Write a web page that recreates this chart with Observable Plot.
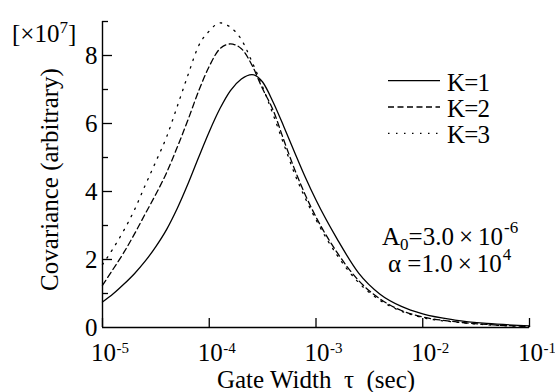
<!DOCTYPE html>
<html><head><meta charset="utf-8">
<script src="https://cdn.jsdelivr.net/npm/d3@7"></script>
<script src="https://cdn.jsdelivr.net/npm/@observablehq/plot@0.6"></script>
<style>
html,body{margin:0;padding:0;background:#fff;}
#chart{width:555px;height:392px;position:relative;}
#chart svg, #chart svg text, #chart svg tspan { font-family: "Liberation Serif", "Times New Roman", serif; }
</style></head><body><div id="chart"></div>
<script>
// Gate width tau (sec)
const tau = [1.00e-5, 1.26e-5, 1.58e-5, 2.00e-5, 2.51e-5, 3.16e-5, 3.98e-5, 5.01e-5, 6.31e-5, 7.94e-5,
             1.00e-4, 1.26e-4, 1.58e-4, 2.00e-4, 2.51e-4, 3.16e-4, 3.98e-4, 5.01e-4, 6.31e-4, 7.94e-4,
             1.00e-3, 1.58e-3, 2.51e-3, 3.98e-3, 6.31e-3, 1.00e-2, 2.00e-2, 3.98e-2, 1.00e-1];
// Covariance (x1e7, arbitrary)
const covK1 = [0.75, 0.99, 1.27, 1.59, 1.95, 2.38, 2.88, 3.50, 4.22, 5.00,
               5.76, 6.44, 6.97, 7.31, 7.44, 7.22, 6.62, 5.90, 5.15, 4.42,
               3.75, 2.60, 1.60, 0.98, 0.62, 0.40, 0.22, 0.12, 0.05];
const covK2 = [1.24, 1.72, 2.20, 2.76, 3.34, 3.92, 4.55, 5.30, 6.10, 6.95,
               7.68, 8.20, 8.34, 8.20, 7.72, 7.02, 6.38, 5.50, 4.65, 3.90,
               3.25, 2.20, 1.38, 0.84, 0.50, 0.31, 0.17, 0.09, 0.03];
const covK3 = [1.85, 2.33, 2.85, 3.47, 4.18, 4.88, 5.60, 6.50, 7.42, 8.28,
               8.72, 8.96, 8.83, 8.47, 7.82, 7.08, 6.25, 5.38, 4.52, 3.80,
               3.17, 2.12, 1.32, 0.80, 0.48, 0.29, 0.16, 0.08, 0.03];
const seriesNames = ["K=1", "K=2", "K=3"];
const xTicks = [1e-5, 1e-4, 1e-3, 1e-2, 1e-1];
const xTickExponents = ["-5", "-4", "-3", "-2", "-1"];
const yTickLabels = [0, 2, 4, 6, 8];
const yTicksMajor = [2, 4, 6, 8];
const yTicksMinor = [1, 3, 5, 7, 9];
const xLabel = "Gate Width\u00a0\u00a0τ\u00a0\u00a0(sec)";
const yLabel = "Covariance (arbitrary)";

const seriesValues = [covK1, covK2, covK3];
const dashes = [null, "6,3.5", "1.5,6.5"];
const serifFamily = "'Liberation Serif', serif";

const W = 555, H = 392, mL = 102, mR = 26, mT = 21, mB = 65;
const fw = W - mL - mR, fh = H - mT - mB;

const rows = seriesNames.map((name, s) => tau.map((t, i) => ({tau: t, cov: seriesValues[s][i], series: name})));

const svg = Plot.plot({
  width: W, height: H,
  marginLeft: mL, marginRight: mR, marginTop: mT, marginBottom: mB,
  style: {fontFamily: serifFamily, fontSize: "25px"},
  x: {type: "log", domain: [1e-5, 1e-1], axis: null},
  y: {domain: [0, 9], axis: null},
  marks: [
    ...rows.map((data, s) => Plot.line(data, {x: "tau", y: "cov", stroke: "#000", strokeWidth: 1.3, strokeDasharray: dashes[s], curve: "monotone-x"})),
    Plot.ruleX([1e-5], {stroke: "#000", strokeWidth: 1.4}),
    Plot.ruleY([0], {stroke: "#000", strokeWidth: 1.4}),
    Plot.tickX(xTicks, {x: d => d, insetTop: fh - 9, stroke: "#000", strokeWidth: 1.3}),
    Plot.tickY(yTicksMajor, {y: d => d, insetRight: fw - 10, stroke: "#000", strokeWidth: 1.3}),
    Plot.tickY(yTicksMinor, {y: d => d, insetRight: fw - 6, stroke: "#000", strokeWidth: 1.3}),
    Plot.text(yTickLabels, {y: d => d, frameAnchor: "left", dx: -5, textAnchor: "end", text: d => String(d), fontSize: 25, fontFamily: serifFamily, fill: "#000"}),
    Plot.text(xTicks, {x: d => d, frameAnchor: "bottom", lineAnchor: "bottom", textAnchor: "middle", dy: 33, dx: 1, text: () => "10", fontSize: 25, fontFamily: serifFamily, fill: "#000"}),
    Plot.text(xTicks, {x: d => d, frameAnchor: "bottom", lineAnchor: "bottom", dy: 25, dx: 14, textAnchor: "start", text: (d, i) => xTickExponents[i], fontSize: 15, fontFamily: serifFamily, fill: "#000"}),
    Plot.text([xLabel], {frameAnchor: "bottom", lineAnchor: "bottom", textAnchor: "middle", dy: 60, text: d => d, fontSize: 25, fontFamily: serifFamily, fill: "#000"}),
    Plot.text([yLabel], {frameAnchor: "left", rotate: -90, lineAnchor: "bottom", textAnchor: "middle", dx: -44.5, dy: 5, text: d => d, fontSize: 25, fontFamily: serifFamily, fill: "#000"})
  ]
});

const root = d3.select(svg);
const g = root.append("g").attr("font-family", serifFamily).attr("fill", "#000").attr("text-anchor", "start");

// unit label [×10^7]
const u = g.append("text").attr("x", 12).attr("y", 41.7).attr("font-size", 25);
u.append("tspan").text("[×10");
u.append("tspan").attr("font-size", 17).attr("dy", -8.4).text("7");
u.append("tspan").attr("dy", 8.4).text("]");

// legend
seriesNames.forEach((name, i) => {
  const y = 80.7 + i * 26.3;
  g.append("line").attr("x1", 388).attr("x2", 440).attr("y1", y).attr("y2", y)
    .attr("stroke", "#000").attr("stroke-width", 1.3).attr("stroke-dasharray", dashes[i]);
  g.append("text").attr("x", 447).attr("y", y + 10).attr("font-size", 25)
    .attr("letter-spacing", -0.8).text(name);
});

// parameters annotation
const a1 = g.append("text").attr("x", 382).attr("y", 245).attr("font-size", 25);
a1.append("tspan").text("A");
a1.append("tspan").attr("font-size", 17).attr("dy", 5).text("0");
a1.append("tspan").attr("dy", -5).text("=3.0\u2009×\u200910");
a1.append("tspan").attr("font-size", 17).attr("dy", -12).attr("dx", 1).text("-6");
const a2 = g.append("text").attr("x", 388).attr("y", 271.7).attr("font-size", 25);
a2.append("tspan").text("α =1.0\u2009×\u200910");
a2.append("tspan").attr("font-size", 17).attr("dy", -11.7).attr("dx", 1).text("4");

document.getElementById("chart").appendChild(svg);
</script>
</body></html>
